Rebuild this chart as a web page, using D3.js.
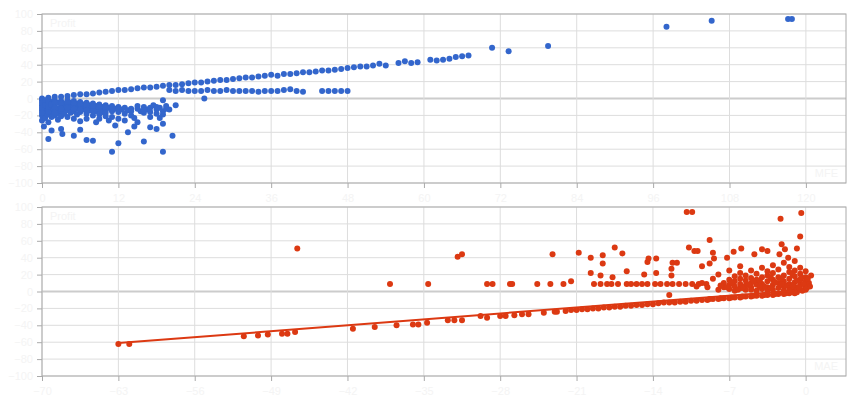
<!DOCTYPE html>
<html>
<head>
<meta charset="utf-8">
<script src="https://cdn.jsdelivr.net/npm/d3@7"></script>
<style>
  body { margin: 0; background: #fff; }
  svg { font-family: Arial, "Liberation Sans", sans-serif; }
</style>
</head>
<body>
<svg id="chart" width="860" height="400"></svg>
<script>
// Top chart: MFE (x) vs Profit (y)
var mfeTicks = [0, 12, 24, 36, 48, 60, 72, 84, 96, 108, 120];
var maeTicks = [-70, -63, -56, -49, -42, -35, -28, -21, -14, -7, 0];
var profitTicks = [-100, -80, -60, -40, -20, 0, 20, 40, 60, 80, 100];

var topPoints = [
	// upper band
	[0,0],[1,1],[2,2],[3,2],[4,3],[5,4],[6,5],[7,5],[8,6],[9,7],[10,8],[11,9],[12,10],[13,10],[14,11],[15,12],
	[16,13],[17,13],[18,14],[19,15],[20,16],[21,16],[22,17],[23,18],[24,19],[25,19],[26,20],[27,21],[28,22],
	[29,22],[30,23],[31,24],[32,25],[33,25],[34,26],[35,27],[36,28],[37,27],[38,29],[39,29],[40,30],[41,31],
	[42,31],[43,32],[44,33],[45,33],[46,34],[47,35],[48,36],[49,37],[50,38],[51,38],[52,39],[53,41],[54,39],
	[56,42],[57,44],[58,42],[59,43],[61,46],[62,45],[63,46],[64,47],[65,49],[66,50],[67,51],[70.7,60],[73.3,56],
	[79.5,62],[98.1,85],[105.2,92],[117.2,94],[117.8,94],
	// flat band near 9
	[20,10],[21,9],[22,10],[23,9],[24,9],[25,9],[26,10],[27,9],[28,9],[29,10],[30,9],[31,9],[32,9],[33,9],
	[34,8],[35,9],[36,9],[37,9],[38,10],[39,11],[40,9],[41,8],[44,9],[45,9],[46,9],[47,9],[48,9],[25.5,0],
	// losing cluster
	[0,-2],[0,-8],[0,-14],[0,-20],[0,-26],[0.5,-5],[0.5,-11],[0.5,-17],[0.5,-23],[1,-1],[1,-7],[1,-13],[1,-19],
	[1,-28],[1.5,-4],[1.5,-10],[1.5,-16],[1.5,-22],[2,-2],[2,-8],[2,-14],[2,-20],[2.5,-5],[2.5,-12],[2.5,-18],
	[2.5,-25],[3,-3],[3,-9],[3,-15],[3,-21],[3.5,-6],[3.5,-12],[3.5,-18],[4,-2],[4,-8],[4,-14],[4,-22],[4.5,-5],
	[4.5,-11],[4.5,-17],[5,-3],[5,-9],[5,-15],[5,-24],[5.5,-6],[5.5,-12],[5.5,-19],[6,-4],[6,-10],[6,-16],
	[6,-27],[6.5,-7],[6.5,-13],[7,-5],[7,-11],[7,-18],[7,-24],[7.5,-8],[7.5,-14],[8,-6],[8,-12],[8,-20],
	[8.5,-9],[8.5,-15],[9,-7],[9,-13],[9,-19],[9.5,-10],[9.5,-16],[10,-8],[10,-14],[10,-21],[10.5,-11],
	[11,-9],[11,-15],[11,-22],[11.5,-12],[12,-10],[12,-16],[12.5,-13],[13,-11],[13,-18],[13.5,-14],[14,-12],
	[14,-20],[15,-12],[15.5,-15],[16,-10],[16,-17],[16.5,-13],[17,-11],[17,-22],[17.5,-8],[18,-13],[18,-18],
	[18.5,-11],[19,-15],[19.5,-12],[20,-13],[14.5,-23],[15,-28],[13,-26],[12,-24],[10.5,-26],[9,-24],[21,-8],
	[19,-2],[0.3,-33],[1,-48],[1.5,-38],[3,-36],[3.2,-42],[5,-44],[6,-37],[7,-49],[8,-50],[8.5,-28],[11,-63],
	[12,-53],[11.5,-32],[13.5,-40],[14.5,-33],[16,-51],[17,-34],[18,-36],[19,-63],[19,-30],[20.5,-44],[18.5,-23],
	[0,-5],[0,-11],[0,-17],[0.5,-2],[0.5,-8],[1,-4],[1,-10],[1,-16],[1.5,-7],[2,-5],[2,-11],[2,-17],[3,-6],
	[3,-12],[4,-5],[4,-11],[5,-6],[5,-12],[6,-7],[6,-13],[7,-8],[7,-14],[8,-9],[8,-15],[9,-10],[10,-11],
	[10,-17],[11,-12],[12,-13],[14,-15],[15,-9],[16,-14],[17,-16],[18,-10],[19,-19],[19.5,-9]
];

// Bottom chart: MAE (x) vs Profit (y)
var bottomPoints = [
	// diagonal band
	[-63,-62],[-62,-62],[-51.5,-53],[-50.2,-52],[-49.3,-51],[-48,-50],[-47.5,-50],[-46.8,-48],[-41.5,-44],
	[-39.5,-42],[-37.5,-40],[-36,-39],[-35.5,-39],[-34.7,-37],[-32.8,-34],[-32.2,-34],[-31.5,-34],[-29.8,-29],
	[-29.2,-31],[-28,-29],[-27.5,-29],[-26.7,-28],[-26,-27],[-25.4,-27],[-24,-25],[-23,-24],[-22.8,-24],
	[-22,-23],[-21.5,-22],[-21,-22],[-20.5,-21],[-20,-21],[-19.5,-20],[-19,-20],[-18.5,-19],[-18,-19],
	[-17.5,-18],[-17,-18],[-16.5,-17],[-16,-17],[-15.5,-16],[-15,-16],[-14.5,-15],[-14,-15],[-13.5,-14],
	[-13,-13],[-12.5,-13],[-12,-13],[-11.5,-12],[-11,-12],[-10.5,-11],[-10,-11],[-9.5,-10],[-9,-10],[-8.5,-9],
	[-8,-9],[-7.5,-8],[-7,-8],[-6.5,-7],[-6,-7],[-5.5,-6],[-5,-6],[-4.5,-5],[-4,-5],[-3.5,-4],[-3,-4],
	[-2.5,-3],[-2,-3],[-1.5,-2],[-1,-2],[-12.5,-4],
	[-8.8,-9],[-7.8,-8],[-6.8,-7],[-5.8,-6],[-4.8,-5],[-3.8,-4],[-2.8,-3],[-1.8,-2],[-1.2,-1],[-0.8,-1],
	// flat band near 9
	[-38.1,9],[-34.6,9],[-29.2,9],[-28.7,9],[-27.1,9],[-26.9,9],[-24.6,9],[-23.4,9],[-22.2,9],[-21.5,12],
	[-19.4,9],[-18.8,9],[-18.2,9],[-17.8,9],[-17.2,9],[-16.4,9],[-16,9],[-15.5,9],[-15,9],[-14.5,9],[-13.8,9],
	[-13.3,9],[-12.7,9],[-12.2,9],[-11.6,9],[-11,9],[-10.4,9],[-9.8,9],[-9.1,9],
	// scattered winners
	[-46.6,51],[-31.9,41],[-31.5,44],[-23.2,44],[-20.8,46],[-19.7,40],[-18.6,43],[-17.5,52],[-16.8,45],
	[-18.6,33],[-19.7,22],[-18.8,19],[-17.7,17],[-16.4,24],[-14.8,20],[-14.5,35],[-14.4,39],[-13.7,39],
	[-13.7,22],[-12.2,34],[-11.8,34],[-12.3,27],[-12.3,19],[-10.9,94],[-10.4,94],[-10.7,52],[-10.2,48],
	[-9.9,48],[-8.8,61],[-8.5,46],[-9.5,30],[-8.8,33],[-8.4,39],[-7.2,40],[-6.6,47],[-5.9,51],[-4.7,44],
	[-4,50],[-3.5,48],[-2.3,86],[-2.2,56],[-1.9,50],[-0.4,93],[-0.5,65],[-0.8,51],[-2.4,44],[-1.6,40],
	// dense cluster
	[-8,2],[-7.5,5],[-7.5,10],[-7,3],[-7,8],[-7,14],[-6.5,1],[-6.5,6],[-6.5,12],[-6.5,18],[-6,4],[-6,9],
	[-6,15],[-6,22],[-5.5,2],[-5.5,7],[-5.5,13],[-5.5,19],[-5,5],[-5,10],[-5,16],[-5,25],[-4.5,1],[-4.5,8],
	[-4.5,14],[-4.5,21],[-4,3],[-4,9],[-4,17],[-4,28],[-3.5,5],[-3.5,12],[-3.5,19],[-3.5,24],[-3,2],[-3,8],
	[-3,14],[-3,22],[-3,31],[-2.5,4],[-2.5,10],[-2.5,17],[-2.5,26],[-2,1],[-2,6],[-2,12],[-2,19],[-2,34],
	[-1.5,3],[-1.5,9],[-1.5,15],[-1.5,23],[-1.5,29],[-1,1],[-1,5],[-1,11],[-1,18],[-1,25],[-1,36],[-0.5,3],
	[-0.5,8],[-0.5,14],[-0.5,21],[-0.5,28],[0,2],[0,6],[0,12],[0,17],[0,24],[0.3,10],[0.5,19],[-9,5],[-10,6],
	[-9.5,10],[-8.5,15],[-8,20],[-7,25],[-6,30],[-5,2],[-3.5,1],[-2,0],[-0.3,1],[-7.8,7],[-6.8,11],[-5.8,4],
	[-4.8,12],[-3.8,6],[-2.8,11],[-1.8,7],[-0.8,13],[-0.2,9],[0.2,15],[-7.2,5],[-6.2,2],[-5.2,8],[-4.2,6],
	[-3.2,4],[-2.2,9],[-1.2,7],[-0.6,5],[0.1,4],[-4.2,13],[-3.2,17],[-2.2,15],[-1.2,20],[-0.4,17],[0.4,6]
];
var trendX = [-63, -1];
var trendY = [-61, 1];

var svg = d3.select("#chart");
var left = 42, right = 846;

function drawPanel( top, bottom, xDomain, xTicks, points, color, yTitle, xTitle ) {

	var x = d3.scaleLinear().domain(xDomain).range([left, right]);
	var y = d3.scaleLinear().domain([-100, 100]).range([bottom, top]);
	var g = svg.append("g");

	// grid
	g.selectAll(".hgrid").data(profitTicks).enter().append("line")
		.attr("x1", left).attr("x2", right)
		.attr("y1", function(d) {return y(d);}).attr("y2", function(d) {return y(d);})
		.attr("stroke", function(d) {return d === 0 ? "#cccccc" : "#dddddd";})
		.attr("stroke-width", function(d) {return d === 0 ? 2 : 1;});
	g.selectAll(".vgrid").data(xTicks).enter().append("line")
		.attr("y1", top).attr("y2", bottom)
		.attr("x1", function(d) {return x(d);}).attr("x2", function(d) {return x(d);})
		.attr("stroke", "#dddddd");

	g.append("rect").attr("x", left).attr("y", top)
		.attr("width", right - left).attr("height", bottom - top)
		.attr("fill", "none").attr("stroke", "#aaaaaa");

	var yAxis = d3.axisLeft(y).tickValues(profitTicks).tickSize(5).tickPadding(4);
	var xAxis = d3.axisBottom(x).tickValues(xTicks).tickSize(5).tickPadding(6);
	[ g.append("g").attr("transform", "translate(" + left + ",0)").call(yAxis),
	  g.append("g").attr("transform", "translate(0," + bottom + ")").call(xAxis) ].forEach(function(a) {
		a.select(".domain").remove();
		a.selectAll("line").attr("stroke", "#aaaaaa");
		a.selectAll("text").attr("fill", "#f4f4f4").attr("font-size", 11);
	});

	g.append("text").attr("x", left + 8).attr("y", top + 13)
		.attr("fill", "#f4f4f4").attr("font-size", 11).text(yTitle);
	g.append("text").attr("x", right - 8).attr("y", bottom - 6).attr("text-anchor", "end")
		.attr("fill", "#f4f4f4").attr("font-size", 11).text(xTitle);

	g.selectAll(".dot").data(points).enter().append("circle")
		.attr("cx", function(d) {return x(d[0]);})
		.attr("cy", function(d) {return y(d[1]);})
		.attr("r", 3)
		.attr("fill", color);

	return { x: x, y: y, g: g };
}

drawPanel( 14, 183, [0, 126.3], mfeTicks, topPoints, "#3366cc", "Profit", "MFE" );
var p2 = drawPanel( 207, 376, [-70, 3.7], maeTicks, bottomPoints, "#dc3912", "Profit", "MAE" );

p2.g.append("path")
	.datum(d3.zip(trendX, trendY))
	.attr("d", d3.line().x(function(d) {return p2.x(d[0]);}).y(function(d) {return p2.y(d[1]);}))
	.attr("stroke", "#dc3912").attr("stroke-width", 2).attr("fill", "none");
</script>
</body>
</html>
